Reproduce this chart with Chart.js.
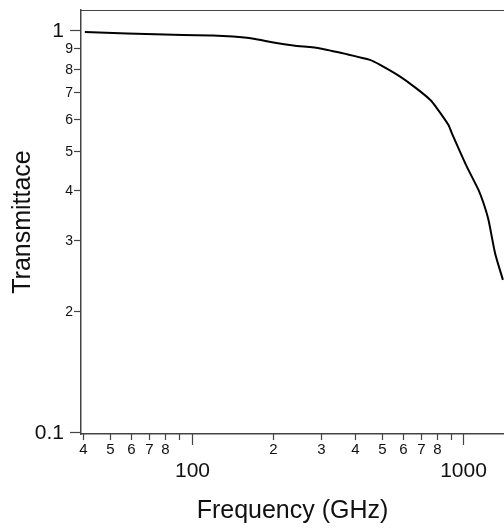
<!DOCTYPE html>
<html>
<head>
<meta charset="utf-8">
<script src="https://cdn.jsdelivr.net/npm/chart.js@4"></script>
<style>
  html, body { margin: 0; padding: 0; background: #fff; }
  canvas { display: block; }
</style>
</head>
<body>
<canvas id="grafica" width="504" height="530"></canvas>
<script>
/* ── Datos ─────────────────────────────── */
const freqGHz = [40.5, 58, 93, 120, 142, 169, 200, 237, 297, 372, 453, 494, 585,
                 673, 754, 798, 881, 907, 1029, 1136, 1185, 1236, 1308, 1397];
const transmittance = [0.987, 0.979, 0.970, 0.968, 0.962, 0.950, 0.930, 0.914, 0.899,
                       0.870, 0.842, 0.818, 0.765, 0.714, 0.670, 0.639, 0.580, 0.553,
                       0.457, 0.400, 0.371, 0.337, 0.278, 0.239];

const xTicks      = [40, 50, 60, 70, 80, 90, 100, 200, 300, 400, 500, 600, 700, 800, 900, 1000];
const xTickLabels = ['4', '5', '6', '7', '8', '', '100', '2', '3', '4', '5', '6', '7', '8', '', '1000'];
const xMajor      = [100, 1000];

const yTicks      = [0.1, 0.2, 0.3, 0.4, 0.5, 0.6, 0.7, 0.8, 0.9, 1];
const yTickLabels = ['0.1', '2', '3', '4', '5', '6', '7', '8', '9', '1'];
const yMajor      = [0.1, 1];

const FONT = "'Liberation Sans', Arial, sans-serif";
const AXIS_COLOR = '#444';

/* ── Ticks y etiquetas a mano (tamaños distintos mayor/menor) ── */
const tickPlugin = {
  id: 'ticksLog',
  afterDraw(chart) {
    const ctx = chart.ctx;
    const { left, right, top, bottom } = chart.chartArea;
    const xs = chart.scales.x, ys = chart.scales.y;
    ctx.save();
    ctx.strokeStyle = AXIS_COLOR;
    ctx.fillStyle = '#111';
    ctx.lineWidth = 1.2;

    // borde superior
    ctx.beginPath();
    ctx.moveTo(left, top + 0.5);
    ctx.lineTo(right, top + 0.5);
    ctx.stroke();

    // eje y
    ctx.textAlign = 'right';
    ctx.textBaseline = 'middle';
    yTicks.forEach((v, i) => {
      const py = Math.round(ys.getPixelForValue(v)) + 0.5;
      const major = yMajor.includes(v);
      const len = major ? 11 : 7;
      ctx.beginPath();
      ctx.moveTo(left - len, py);
      ctx.lineTo(left, py);
      ctx.stroke();
      ctx.font = (major ? '21px ' : '14px ') + FONT;
      ctx.fillText(yTickLabels[i], left - (major ? 17 : 8), py + 1);
    });

    // eje x
    ctx.textAlign = 'center';
    ctx.textBaseline = 'middle';
    xTicks.forEach((v, i) => {
      const px = Math.round(xs.getPixelForValue(v)) + 0.5;
      const major = xMajor.includes(v);
      const len = major ? 11 : 6;
      ctx.beginPath();
      ctx.moveTo(px, bottom);
      ctx.lineTo(px, bottom + len);
      ctx.stroke();
      if (!xTickLabels[i]) return;
      if (major) {
        ctx.font = '21px ' + FONT;
        ctx.fillText(xTickLabels[i], px, bottom + 37);
      } else {
        ctx.font = '15px ' + FONT;
        ctx.fillText(xTickLabels[i], px, bottom + 16);
      }
    });
    ctx.restore();
  }
};

new Chart(document.getElementById('grafica'), {
  type: 'line',
  data: {
    datasets: [{
      data: freqGHz.map((f, i) => ({ x: f, y: transmittance[i] })),
      borderColor: '#000',
      borderWidth: 2,
      pointRadius: 0,
      tension: 0.2,
      fill: false
    }]
  },
  options: {
    responsive: false,
    animation: false,
    layout: { padding: { top: 10, right: 0, left: 0, bottom: 0 } },
    plugins: {
      legend: { display: false },
      tooltip: { enabled: false }
    },
    scales: {
      x: {
        type: 'logarithmic',
        min: 39.2,
        max: 1410,
        grid: { display: false },
        border: { display: true, color: AXIS_COLOR, width: 1.5 },
        ticks: { display: false },
        title: {
          display: true,
          text: 'Frequency (GHz)',
          color: '#111',
          font: { family: FONT, size: 25 },
          padding: { top: 0, bottom: 4 }
        },
        afterFit: s => { s.height = 96; }
      },
      y: {
        type: 'logarithmic',
        min: 0.0989,
        max: 1.12,
        grid: { display: false },
        border: { display: true, color: AXIS_COLOR, width: 1.5 },
        ticks: { display: false },
        title: {
          display: true,
          text: 'Transmittace',
          color: '#111',
          font: { family: FONT, size: 25 },
          padding: { top: 8, bottom: 0 }
        },
        afterFit: s => { s.width = 81; }
      }
    }
  },
  plugins: [tickPlugin]
});
</script>
</body>
</html>
